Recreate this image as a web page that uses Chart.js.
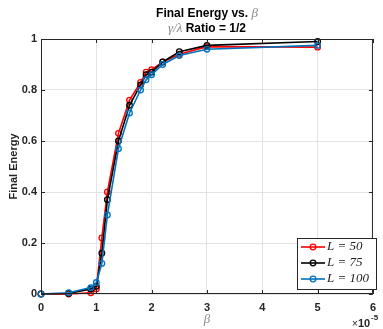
<!DOCTYPE html>
<html>
<head>
<meta charset="utf-8">
<script src="https://cdn.jsdelivr.net/npm/chart.js@4"></script>
<style>
  html, body { margin: 0; padding: 0; background: #fff; }
  #wrap { width: 383px; height: 329px; }
</style>
</head>
<body>
<div id="wrap"><canvas id="myChart" width="383" height="329"></canvas></div>
<script>
// beta values, in units of 1e-5
var beta = [0, 0.5, 0.9, 1.0, 1.1, 1.2, 1.4, 1.6, 1.8, 1.9, 2.0, 2.2, 2.5, 3.0, 5.0];
var energyL50  = [0, 0, 0.005, 0.02, 0.22, 0.40, 0.63, 0.76, 0.83, 0.87, 0.88, 0.91, 0.94, 0.97, 0.968];
var energyL75  = [0, 0.002, 0.02, 0.03, 0.16, 0.37, 0.60, 0.74, 0.82, 0.86, 0.87, 0.91, 0.95, 0.975, 0.99];
var energyL100 = [0, 0.005, 0.025, 0.045, 0.12, 0.31, 0.57, 0.71, 0.80, 0.84, 0.86, 0.90, 0.935, 0.96, 0.975];
var seriesNames = ['L = 50', 'L = 75', 'L = 100'];
var xTicks = [0, 1, 2, 3, 4, 5, 6];
var yTicks = [0, 0.2, 0.4, 0.6, 0.8, 1];

var SANS = '"Liberation Sans", Arial, Helvetica, sans-serif';
var SERIF = '"Liberation Serif", "DejaVu Serif", serif';

function pts(ys) {
  return beta.map(function(b, i) { return {x: b, y: ys[i]}; });
}

function series(label, ys, color, order) {
  return {
    label: label,
    data: pts(ys),
    borderColor: color,
    backgroundColor: 'transparent',
    borderWidth: 1.6,
    pointRadius: 2.8,
    pointBorderWidth: 1.3,
    pointBackgroundColor: 'transparent',
    pointBorderColor: color,
    tension: 0,
    clip: false,
    order: order
  };
}

// title, axis labels, frame and legend, MATLAB-ish
var decor = {
  id: 'decor',
  afterDraw: function(chart) {
    var c = chart.ctx, a = chart.chartArea;
    c.save();

    // frame + inward ticks
    c.strokeStyle = '#262626';
    c.lineWidth = 1;
    c.strokeRect(a.left + 0.5, a.top + 0.5, a.right - a.left - 1, a.bottom - a.top - 1);
    var xs = chart.scales.x, ys = chart.scales.y;
    c.beginPath();
    xTicks.forEach(function(t) {
      var px = Math.round(xs.getPixelForValue(t)) + 0.5;
      c.moveTo(px, a.bottom); c.lineTo(px, a.bottom - 4);
      c.moveTo(px, a.top); c.lineTo(px, a.top + 4);
    });
    yTicks.forEach(function(t) {
      var py = Math.round(ys.getPixelForValue(t)) + 0.5;
      c.moveTo(a.left, py); c.lineTo(a.left + 4, py);
      c.moveTo(a.right, py); c.lineTo(a.right - 4, py);
    });
    c.stroke();

    // title (two lines, mixed fonts)
    var cx = (a.left + a.right) / 2;
    function mixed(parts, y) {
      var w = 0;
      parts.forEach(function(p) { c.font = p.font; w += c.measureText(p.text).width; });
      var x = cx - w / 2;
      c.textBaseline = 'middle';
      c.textAlign = 'left';
      parts.forEach(function(p) {
        c.font = p.font; c.fillStyle = p.color;
        c.fillText(p.text, x, y);
        x += c.measureText(p.text).width;
      });
    }
    mixed([
      {text: 'Final Energy vs. ', font: 'bold 12px ' + SANS, color: '#000'},
      {text: 'β', font: 'italic 13px ' + SERIF, color: '#888'}
    ], 14);
    mixed([
      {text: 'γ/λ', font: 'italic 13px ' + SERIF, color: '#888'},
      {text: ' Ratio = 1/2', font: 'bold 12px ' + SANS, color: '#000'}
    ], 29);

    // x label and exponent
    c.fillStyle = '#888';
    c.font = 'italic 13px ' + SERIF;
    c.textAlign = 'center';
    c.textBaseline = 'middle';
    c.fillText('β', cx, 320);
    c.fillStyle = '#262626';
    c.textAlign = 'left';
    c.font = '10px ' + SANS;
    c.fillText('×', 352, 324);
    c.font = 'bold 11px ' + SANS;
    c.fillText('10', 358, 324);
    c.font = 'bold 8px ' + SANS;
    c.fillText('-5', 371, 318);

    // y label
    c.save();
    c.translate(14, (a.top + a.bottom) / 2);
    c.rotate(-Math.PI / 2);
    c.textAlign = 'center';
    c.font = 'bold 11px ' + SANS;
    c.fillStyle = '#262626';
    c.fillText('Final Energy', 0, 0);
    c.restore();

    // legend box
    var bx = 297, by = 238, bw = 79, bh = 51;
    c.fillStyle = '#fff';
    c.fillRect(bx, by, bw, bh);
    c.strokeStyle = '#262626';
    c.lineWidth = 1;
    c.strokeRect(bx + 0.5, by + 0.5, bw, bh);
    chart.data.datasets.forEach(function(ds, i) {
      var y = 247 + i * 16;
      c.strokeStyle = ds.borderColor;
      c.lineWidth = 1.6;
      c.beginPath(); c.moveTo(301, y); c.lineTo(325, y); c.stroke();
      c.lineWidth = 1.3;
      c.beginPath(); c.arc(313, y, 2.8, 0, Math.PI * 2); c.stroke();
      c.fillStyle = '#222';
      c.font = 'italic 13px ' + SERIF;
      c.textBaseline = 'middle';
      c.fillText(ds.label, 327, y);
    });
    c.restore();
  }
};

var ctx = document.getElementById('myChart').getContext('2d');
var chart = new Chart(ctx, {
  type: 'line',
  data: {
    datasets: [
      series(seriesNames[0], energyL50, '#ff0000', 3),
      series(seriesNames[1], energyL75, '#000000', 2),
      series(seriesNames[2], energyL100, '#0072bd', 1)
    ]
  },
  options: {
    responsive: false,
    animation: false,
    layout: { padding: { left: 0, right: 5, top: 39, bottom: 0 } },
    plugins: { legend: { display: false }, title: { display: false }, tooltip: { enabled: false } },
    scales: {
      x: {
        type: 'linear', min: 0, max: 6,
        afterFit: function(s) { s.height = 35; },
        afterBuildTicks: function(s) { s.ticks = xTicks.map(function(v) { return {value: v}; }); },
        grid: { color: '#e3e3e3', drawTicks: false },
        border: { display: false },
        ticks: { padding: 7, color: '#262626', font: { family: SANS, size: 11, weight: 'bold' }, maxRotation: 0,
                 callback: function(v) { return String(v); } }
      },
      y: {
        min: 0, max: 1,
        afterFit: function(s) { s.width = 41; },
        afterBuildTicks: function(s) { s.ticks = yTicks.map(function(v) { return {value: v}; }); },
        grid: { color: '#e3e3e3', drawTicks: false },
        border: { display: false },
        ticks: { padding: 4, color: '#262626', font: { family: SANS, size: 11, weight: 'bold' },
                 callback: function(v) { return String(v); } }
      }
    }
  },
  plugins: [decor]
});
</script>
</body>
</html>
